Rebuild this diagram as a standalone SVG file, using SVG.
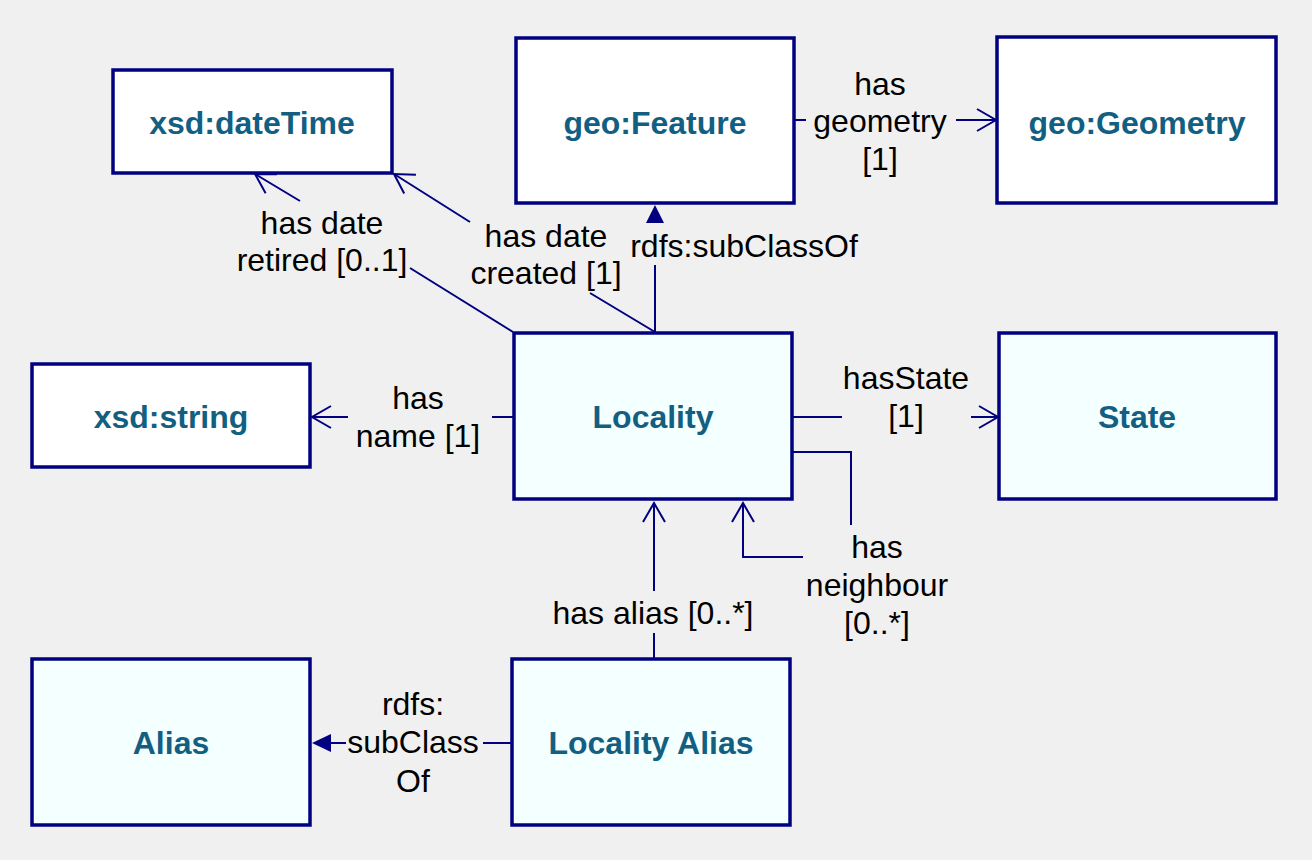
<svg xmlns="http://www.w3.org/2000/svg" width="1312" height="860" viewBox="0 0 1312 860">
  <style>
    .box { stroke: #000080; stroke-width: 3.5; }
    .ext { fill: #ffffff; }
    .loc { fill: #f4ffff; }
    .nl { font-family: "Liberation Sans", Arial, sans-serif; font-weight: bold; font-size: 32px; fill: #135f82; text-anchor: middle; }
    .el { font-family: "Liberation Sans", Arial, sans-serif; font-size: 32px; fill: #000000; text-anchor: middle; }
    .ln { stroke: #000080; stroke-width: 2; fill: none; }
  </style>
  <defs>
    <marker id="open" markerUnits="userSpaceOnUse" markerWidth="30" markerHeight="30" viewBox="-24 -15 28 30" refX="0" refY="0" orient="auto">
      <path d="M-19,-11 L0,0 L-19,11" fill="none" stroke="#000080" stroke-width="2"/>
    </marker>
  </defs>
  <rect x="0" y="0" width="1312" height="860" fill="#f0f0f0"/>

  <g id="connectors">
    <!-- has date retired -->
    <line class="ln" x1="300" y1="201" x2="255" y2="174" marker-end="url(#open)"/>
    <line class="ln" x1="410" y1="268" x2="513" y2="332"/>
    <!-- has date created -->
    <line class="ln" x1="470" y1="222" x2="394" y2="174" marker-end="url(#open)"/>
    <line class="ln" x1="590" y1="293" x2="655" y2="332"/>
    <!-- rdfs:subClassOf to geo:Feature -->
    <line class="ln" x1="655" y1="265" x2="655" y2="332"/>
    <polygon points="655,205 664,223 646,223" fill="#000080"/>
    <!-- has geometry -->
    <line class="ln" x1="794" y1="120" x2="806" y2="120"/>
    <line class="ln" x1="956" y1="120" x2="996" y2="120" marker-end="url(#open)"/>
    <!-- has name -->
    <line class="ln" x1="348" y1="417" x2="312" y2="417" marker-end="url(#open)"/>
    <line class="ln" x1="492" y1="417" x2="513" y2="417"/>
    <!-- hasState -->
    <line class="ln" x1="792" y1="417" x2="842" y2="417"/>
    <line class="ln" x1="971" y1="417" x2="998" y2="417" marker-end="url(#open)"/>
    <!-- has neighbour -->
    <polyline class="ln" points="792,452 851,452 851,525"/>
    <polyline class="ln" points="803,557 743,557 743,503" marker-end="url(#open)"/>
    <!-- has alias -->
    <line class="ln" x1="654" y1="591" x2="654" y2="503" marker-end="url(#open)"/>
    <line class="ln" x1="654" y1="633" x2="654" y2="658"/>
    <!-- rdfs:subClassOf to Alias -->
    <line class="ln" x1="330" y1="743" x2="346" y2="743"/>
    <polygon points="312,743 331,734 331,752" fill="#000080"/>
    <line class="ln" x1="483" y1="743" x2="512" y2="743"/>
  </g>

  <g id="edge-labels">
    <text class="el" x="322"><tspan x="322" y="234">has date</tspan><tspan x="322" y="271">retired [0..1]</tspan></text>
    <text class="el" x="546"><tspan x="546" y="247">has date</tspan><tspan x="546" y="284">created [1]</tspan></text>
    <text class="el" x="744" y="257">rdfs:subClassOf</text>
    <text class="el" x="880"><tspan x="880" y="95">has</tspan><tspan x="880" y="132">geometry</tspan><tspan x="880" y="170">[1]</tspan></text>
    <text class="el" x="418"><tspan x="418" y="409">has</tspan><tspan x="418" y="447">name [1]</tspan></text>
    <text class="el" x="906"><tspan x="906" y="389">hasState</tspan><tspan x="906" y="427">[1]</tspan></text>
    <text class="el" x="877"><tspan x="877" y="558">has</tspan><tspan x="877" y="596">neighbour</tspan><tspan x="877" y="634">[0..*]</tspan></text>
    <text class="el" x="653" y="624">has alias [0..*]</text>
    <text class="el" x="413"><tspan x="413" y="715">rdfs:</tspan><tspan x="413" y="753">subClass</tspan><tspan x="413" y="792">Of</tspan></text>
  </g>

  <g id="node-xsd-dateTime">
    <rect class="box ext" x="113" y="70" width="279" height="103"/>
    <text class="nl" x="252" y="134">xsd:dateTime</text>
  </g>
  <g id="node-geo-Feature">
    <rect class="box ext" x="516" y="38" width="278" height="165"/>
    <text class="nl" x="655" y="134">geo:Feature</text>
  </g>
  <g id="node-geo-Geometry">
    <rect class="box ext" x="997" y="37" width="279" height="166"/>
    <text class="nl" x="1137" y="134">geo:Geometry</text>
  </g>
  <g id="node-xsd-string">
    <rect class="box ext" x="32" y="364" width="278" height="103"/>
    <text class="nl" x="171" y="428">xsd:string</text>
  </g>
  <g id="node-Locality">
    <rect class="box loc" x="514" y="333" width="278" height="166"/>
    <text class="nl" x="653" y="428">Locality</text>
  </g>
  <g id="node-State">
    <rect class="box loc" x="999" y="333" width="277" height="166"/>
    <text class="nl" x="1137" y="428">State</text>
  </g>
  <g id="node-Alias">
    <rect class="box loc" x="32" y="659" width="278" height="166"/>
    <text class="nl" x="171" y="754">Alias</text>
  </g>
  <g id="node-Locality-Alias">
    <rect class="box loc" x="512" y="659" width="278" height="166"/>
    <text class="nl" x="651" y="754">Locality Alias</text>
  </g>
</svg>
